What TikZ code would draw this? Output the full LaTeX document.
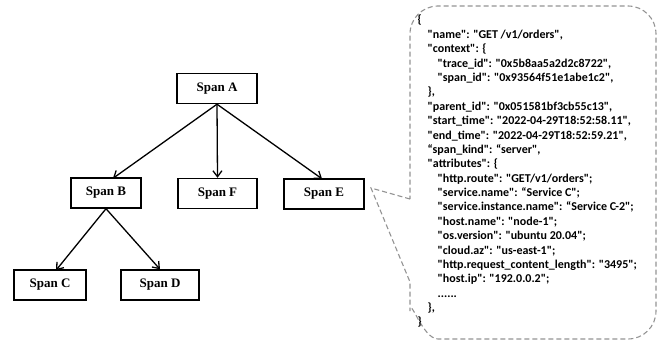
\documentclass[tikz,border=0pt]{standalone}
\usepackage{fontspec}
\setmainfont{Liberation Serif}
\newfontfamily\jsonfont{Carlito}
\usetikzlibrary{arrows.meta}
\begin{document}
\begin{tikzpicture}[x=1pt,y=-1pt,
  spanbox/.style={draw=black,line width=1.4pt,minimum height=30pt,inner sep=0pt,font=\fontsize{13}{15}\selectfont\bfseries},
  arr/.style={line width=1.3pt,-{Straight Barb[length=6pt,width=9pt,line width=1.3pt]}},
  callout/.style={draw=gray!85,line width=1.1pt,dash pattern=on 5pt off 3pt}
]
\useasboundingbox (0,0) rectangle (672,345);
\node[spanbox,minimum width=80pt] (A) at (217,88.5) {Span A};
\node[spanbox,minimum width=70pt] (B) at (106,193) {Span B};
\node[spanbox,minimum width=79pt] (F) at (217.5,193.5) {Span F};
\node[spanbox,minimum width=80pt] (E) at (324,194) {Span E};
\node[spanbox,minimum width=72pt] (C) at (50,285) {Span C};
\node[spanbox,minimum width=78pt] (D) at (160,285) {Span D};
\draw[arr] (A.south) -- (113,178.3);
\draw[arr] (A.south) -- (F.north);
\draw[arr] (A.south) -- (322,178.8);
\draw[arr] (B.south) -- (56,270.3);
\draw[arr] (B.south) -- (D.north);
\coordinate (tip) at (371,188);
\draw[callout] (410,199) -- (tip) -- (410,282) -- (410,311) to[out=90,in=180] (438,339) -- (628,339) to[out=0,in=-90] (656,311) -- (656,34) to[out=90,in=0] (628,6) -- (438,6) to[out=180,in=90] (410,34) -- (410,199);
\node[anchor=north west,align=left,inner sep=0pt,font=\jsonfont\bfseries\fontsize{12}{14.38}\selectfont] (json) at (417.5,15) {%
\{\\
\hspace*{10pt}"name": "GET /v1/orders",\\
\hspace*{10pt}"context": \{\\
\hspace*{20pt}"trace\_id": "0x5b8aa5a2d2c8722",\\
\hspace*{20pt}"span\_id": "0x93564f51e1abe1c2",\\
\hspace*{10pt}\},\\
\hspace*{10pt}"parent\_id": "0x051581bf3cb55c13",\\
\hspace*{10pt}"start\_time": "2022-04-29T18:52:58.11",\\
\hspace*{10pt}"end\_time": "2022-04-29T18:52:59.21",\\
\hspace*{10pt}“span\_kind": “server",\\
\hspace*{10pt}"attributes": \{\\
\hspace*{20pt}"http.route": "GET/v1/orders";\\
\hspace*{20pt}"service.name": “Service C";\\
\hspace*{20pt}"service.instance.name": “Service C-2";\\
\hspace*{20pt}"host.name": "node-1";\\
\hspace*{20pt}"os.version": "ubuntu 20.04";\\
\hspace*{20pt}"cloud.az": "us-east-1";\\
\hspace*{20pt}"http.request\_content\_length": "3495";\\
\hspace*{20pt}"host.ip": "192.0.0.2";\\
\hspace*{20pt}......\\
\hspace*{10pt}\},\\
\}};
\end{tikzpicture}
\end{document}
